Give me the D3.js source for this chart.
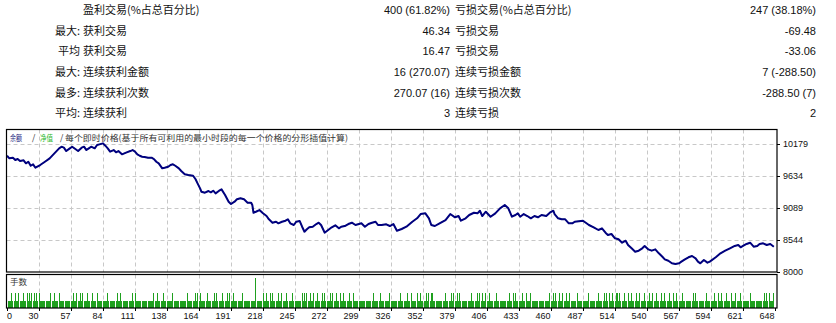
<!DOCTYPE html>
<html><head><meta charset="utf-8">
<script src="https://cdn.jsdelivr.net/npm/d3@7"></script>
<style>body{margin:0;background:#fff}svg{display:block}</style>
</head><body><svg id="c" width="836" height="323"></svg>
<script>
// ---------- data ----------
const rowPrefix = ["", "最大:", "平均", "最大:", "最多:", "平均:"];
const leftLabels = ["盈利交易(%占总百分比)", "获利交易", "获利交易", "连续获利金额", "连续获利次数", "连续获利"];
const leftValues = ["400 (61.82%)", "46.34", "16.47", "16 (270.07)", "270.07 (16)", "3"];
const rightLabels = ["亏损交易(%占总百分比)", "亏损交易", "亏损交易", "连续亏损金额", "连续亏损次数", "连续亏损"];
const rightValues = ["247 (38.18%)", "-69.48", "-33.06", "7 (-288.50)", "-288.50 (7)", "2"];

const headerParts = ["余额", "/", "净值", "/", "每个即时价格(基于所有可利用的最小时段的每一个价格的分形插值计算)"];
const volumeTitle = "手数";

const tradeIdx = [0,2,5,7,9,11,14,16,18,20,22,24,28,32,36,40,44,46,48,50,53,55,60,63,65,67,69,71,74,76,78,81,83,85,87,90,92,94,97,99,101,104,106,108,110,112,114,116,119,122,124,126,128,131,133,136,138,140,142,145,147,150,153,157,159,161,163,164,167,170,172,174,176,179,181,184,187,189,192,194,197,200,203,206,207,208,210,213,216,219,221,224,227,229,232,235,237,239,242,244,247,249,251,253,255,258,261,263,265,267,268,271,274,277,280,282,285,288,291,294,297,299,302,305,308,311,313,316,320,323,326,329,333,337,342,346,349,353,356,358,361,365,370,374,378,381,383,387,390,394,397,399,401,404,408,412,416,420,423,426,429,431,433,436,439,442,445,448,451,455,458,461,462,465,468,471,474,477,479,486,491,495,499,502,505,507,510,513,516,519,522,524,527,530,533,536,538,541,544,547,550,553,555,558,561,564,567,569,572,575,578,581,583,585,588,591,593,598,602,606,610,614,617,619,621,624,627,630,633,635,638,641,644,647];
const balance = [9979,9935,9945,9906,9923,9889,9901,9850,9877,9809,9833,9775,9821,9877,9935,10020,10105,10133,10116,10059,10105,10133,10059,10116,10133,10076,10105,10133,10105,10162,10173,10190,10150,10105,10048,10076,10037,10059,10003,10020,10037,10059,10076,10048,10003,9979,9962,9957,9945,9945,9923,9877,9850,9765,9775,9792,9821,9833,9809,9765,9719,9663,9651,9639,9583,9500,9420,9367,9350,9379,9356,9384,9339,9384,9407,9311,9197,9157,9197,9237,9254,9237,9180,9180,9140,9009,9026,9055,8999,8953,8897,8839,8856,8829,8856,8873,8897,8829,8800,8856,8868,8771,8686,8727,8761,8771,8817,8839,8800,8715,8669,8715,8761,8795,8744,8771,8783,8817,8839,8800,8817,8829,8771,8817,8839,8856,8800,8800,8812,8783,8817,8703,8732,8771,8856,8914,8987,8999,8914,8800,8783,8829,8885,8987,8931,8953,8873,8914,8970,9009,8999,9043,8953,9026,8941,8999,9084,9140,9084,8941,8970,8999,8941,8987,8953,8914,8953,8931,8970,8953,9009,9043,8987,8914,8897,8897,8829,8829,8856,8873,8800,8761,8715,8744,8669,8630,8647,8574,8557,8499,8533,8460,8403,8346,8363,8403,8443,8386,8363,8386,8318,8260,8216,8192,8148,8136,8148,8176,8216,8250,8272,8233,8176,8148,8204,8159,8176,8250,8318,8363,8403,8443,8460,8420,8443,8477,8499,8431,8443,8477,8488,8460,8477,8431];

const tradeCount = 647;
const baseLot = 0.01;
const doubleLotTrades = [4,7,10,14,17,19,21,23,25,27,37,40,44,56,59,62,64,68,72,76,85,93,96,106,108,124,127,132,140,152,159,161,163,169,175,177,182,186,188,191,199,216,219,222,224,229,232,236,241,249,251,253,256,259,262,266,268,273,275,278,281,284,289,292,309,315,323,332,338,341,346,349,354,356,358,359,370,375,377,380,382,392,397,399,401,404,407,413,424,427,429,435,438,442,458,461,463,466,469,472,475,481,491,499,504,506,508,511,514,515,517,521,524,527,531,534,538,542,545,548,552,555,559,562,565,570,579,581,590,597,600,603,607,611,615,619,627,639,641,643,647];
const quadLotTrades = [210];

const xTickLabels = ["0","30","57","84","111","138","164","191","218","245","272","299","326","352","379","406","433","460","487","514","540","567","594","621","648"];
const yTicks = [8000, 8544, 9089, 9634, 10179];

// ---------- layout ----------
const svg = d3.select("#c");
const L = 6.5, R = 777, mainTop = 129.5, mainBot = 272, volTop = 274.5, volBot = 308;

const x = d3.scaleLinear().domain([0, 648]).range([7, 775]);
const xTick = d3.scalePoint().domain(xTickLabels).range([7, 775]);
const y = d3.scaleLinear().domain([8000, 10179]).range([272, 144]);
const vy = d3.scaleLinear().domain([0, 0.04]).range([volBot, 278]);

const cjk = "'Noto Sans CJK SC', sans-serif";
const lat = "'Liberation Sans', Arial, sans-serif";
const txt = "#111";

// ---------- statistics table ----------
const rowY = [10, 31, 51, 72, 93, 113];
const tbl = svg.append("g").attr("font-size", 11).attr("fill", txt);
rowY.forEach((ry, i) => {
  tbl.append("text").attr("x", 80).attr("y", ry).attr("dy", "0.36em").attr("text-anchor", "end")
    .attr("font-family", cjk).text(rowPrefix[i]);
  tbl.append("text").attr("x", 83).attr("y", ry).attr("dy", "0.36em")
    .attr("font-family", cjk).text(leftLabels[i]);
  tbl.append("text").attr("x", 450).attr("y", ry).attr("dy", "0.36em").attr("text-anchor", "end")
    .attr("font-family", lat).text(leftValues[i]);
  tbl.append("text").attr("x", 455).attr("y", ry).attr("dy", "0.36em")
    .attr("font-family", cjk).text(rightLabels[i]);
  tbl.append("text").attr("x", 816).attr("y", ry).attr("dy", "0.36em").attr("text-anchor", "end")
    .attr("font-family", lat).text(rightValues[i]);
});

// ---------- grid ----------
const grid = svg.append("g").attr("stroke", "#c8c8c8").attr("stroke-dasharray", "4,3").attr("stroke-width", 1);
xTickLabels.slice(1, -1).forEach(t => {
  const gx = Math.round(xTick(t)) + 0.5;
  grid.append("line").attr("x1", gx).attr("x2", gx).attr("y1", mainTop).attr("y2", mainBot);
  grid.append("line").attr("x1", gx).attr("x2", gx).attr("y1", volTop).attr("y2", volBot);
});
yTicks.slice(1).forEach(t => {
  const gy = Math.round(y(t)) + 0.5;
  grid.append("line").attr("x1", L).attr("x2", R).attr("y1", gy).attr("y2", gy);
});

// ---------- clip ----------
svg.append("clipPath").attr("id", "clipMain").append("rect")
  .attr("x", L).attr("y", mainTop).attr("width", R - L).attr("height", mainBot - mainTop);

// ---------- equity / balance lines ----------
const pts = tradeIdx.map((t, i) => [t, balance[i]]);
const line = d3.line().x(d => x(d[0])).y(d => y(d[1]));
svg.append("path").datum(pts).attr("clip-path", "url(#clipMain)")
  .attr("fill", "none").attr("stroke", "#20b020").attr("stroke-width", 1).attr("d", line);
svg.append("path").datum(pts).attr("clip-path", "url(#clipMain)")
  .attr("fill", "none").attr("stroke", "#00007f").attr("stroke-width", 2)
  .attr("stroke-linejoin", "round").attr("d", line);

// ---------- volume bars ----------
const lots = d3.range(1, tradeCount + 1).map(i => ({
  i, lot: quadLotTrades.includes(i) ? baseLot * 4 : doubleLotTrades.includes(i) ? baseLot * 2 : baseLot
}));
svg.append("g").attr("fill", "#1fa01f").attr("shape-rendering", "crispEdges")
  .selectAll("rect").data(lots).join("rect")
  .attr("x", d => Math.floor(x(d.i)))
  .attr("width", 1)
  .attr("y", d => Math.round(vy(d.lot)))
  .attr("height", d => volBot - Math.round(vy(d.lot)));

// ---------- frames ----------
svg.append("rect").attr("x", L).attr("y", mainTop).attr("width", R - L).attr("height", mainBot - mainTop)
  .attr("fill", "none").attr("stroke", "#000").attr("stroke-width", 1.2);
svg.append("rect").attr("x", L).attr("y", volTop).attr("width", R - L).attr("height", volBot - volTop)
  .attr("fill", "none").attr("stroke", "#000").attr("stroke-width", 1.2);

// ---------- header texts ----------
const hdr = svg.append("g").attr("font-family", cjk).attr("font-size", 8.5);
const hdrX = [10, 32, 40, 60, 65];
const hdrLen = [12, null, 13, null, 283];
const hdrCol = ["#1a237e", "#333", "#2db82d", "#333", "#333"];
headerParts.forEach((s, i) => {
  const t = hdr.append("text").attr("x", hdrX[i]).attr("y", 138).attr("dy", "0.36em")
    .attr("fill", hdrCol[i]).text(s);
  if (hdrLen[i]) t.attr("textLength", hdrLen[i]).attr("lengthAdjust", "spacingAndGlyphs");
});
svg.append("text").attr("x", 10).attr("y", 282).attr("dy", "0.36em")
  .attr("font-family", cjk).attr("font-size", 8.5).attr("fill", "#333").text(volumeTitle);

// ---------- y axis (right) ----------
const yax = svg.append("g").attr("font-family", lat).attr("font-size", 9).attr("fill", txt);
yTicks.forEach(t => {
  const ty = Math.round(y(t)) + 0.5;
  svg.append("line").attr("x1", R).attr("x2", R + 3).attr("y1", ty).attr("y2", ty).attr("stroke", "#000");
  yax.append("text").attr("x", 783).attr("y", y(t)).attr("dy", "0.35em").text(t);
});

// ---------- x axis (bottom) ----------
const xax = svg.append("g").attr("font-family", lat).attr("font-size", 9).attr("fill", txt);
xTickLabels.forEach((t, i) => {
  const tx = Math.round(xTick(t)) + 0.5;
  svg.append("line").attr("x1", tx).attr("x2", tx).attr("y1", volBot).attr("y2", volBot + 3).attr("stroke", "#000");
  xax.append("text").attr("x", i === 0 ? 7 : tx - 1).attr("y", 319)
    .attr("text-anchor", i === 0 ? "start" : "end").text(t);
});
</script></body></html>
